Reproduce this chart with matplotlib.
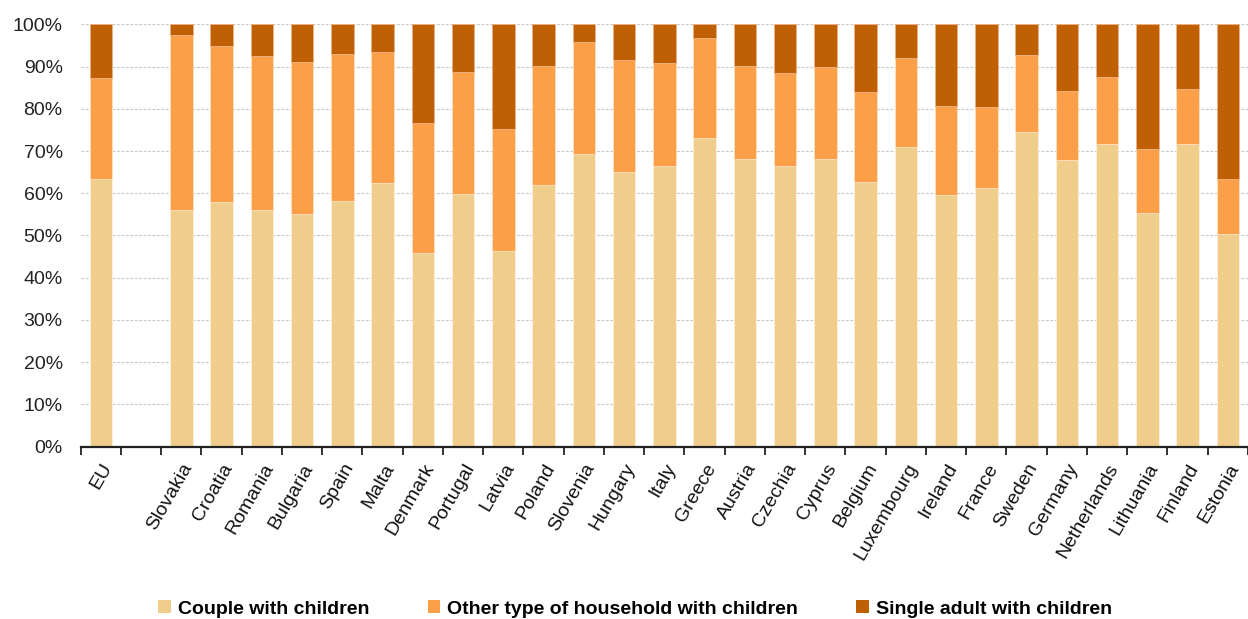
import matplotlib
matplotlib.use("Agg")
import matplotlib.pyplot as plt
from matplotlib.patches import Patch
from matplotlib.ticker import FixedLocator, PercentFormatter
import numpy as np

plt.rcParams['font.family'] = ['Liberation Sans', 'DejaVu Sans']

# Categories (EU aggregate followed by a blank slot, then the member states)
categories = ["EU", "", "Slovakia", "Croatia", "Romania", "Bulgaria", "Spain", "Malta",
              "Denmark", "Portugal", "Latvia", "Poland", "Slovenia", "Hungary", "Italy",
              "Greece", "Austria", "Czechia", "Cyprus", "Belgium", "Luxembourg",
              "Ireland", "France", "Sweden", "Germany", "Netherlands", "Lithuania",
              "Finland", "Estonia"]

# Shares of households with children (%), blank slot uses NaN
couple = [63.4, np.nan, 56.1, 57.9, 56.0, 55.1, 58.2, 62.4, 45.9, 59.8, 46.3, 61.9,
          69.4, 65.0, 66.5, 73.0, 68.2, 66.5, 68.2, 62.6, 71.0, 59.6, 61.2, 74.5,
          67.9, 71.6, 55.3, 71.6, 50.4]
other = [24.0, np.nan, 41.3, 37.0, 36.4, 35.9, 34.7, 31.0, 30.8, 29.0, 28.8, 28.3,
         26.5, 26.6, 24.3, 23.7, 22.0, 22.0, 21.7, 21.3, 21.0, 21.0, 19.2, 18.2,
         16.4, 15.9, 15.1, 13.2, 12.9]
single = [100 - c - o if not (np.isnan(c) or np.isnan(o)) else np.nan
          for c, o in zip(couple, other)]

series_names = ["Couple with children", "Other type of household with children",
                "Single adult with children"]
colors = ["#F0CD8A", "#FBA048", "#C06004"]

fig = plt.figure(figsize=(12.48, 6.19), dpi=100)
ax = fig.add_axes([0.0647, 0.2784, 0.9353, 0.6823])

x = np.arange(len(categories))
c = np.nan_to_num(np.array(couple, dtype=float))
o = np.nan_to_num(np.array(other, dtype=float))
s = np.nan_to_num(np.array(single, dtype=float))

w = 0.56
ax.bar(x, c, width=w, color=colors[0], edgecolor="#FFF3DC", linewidth=0.6, zorder=3)
ax.bar(x, o, width=w, bottom=c, color=colors[1], edgecolor="#FFE0C0", linewidth=0.6, zorder=3)
ax.bar(x, s, width=w, bottom=c + o, color=colors[2], edgecolor="#F0B080", linewidth=0.6, zorder=3)

ax.set_ylim(0, 100)
ax.set_xlim(-0.5, 28.32)
ax.yaxis.set_major_locator(FixedLocator(np.arange(0, 101, 10)))
ax.yaxis.set_major_formatter(PercentFormatter(decimals=0))
ax.tick_params(axis='y', length=0, labelsize=14, pad=13, labelcolor="#222222")
ax.grid(axis='y', color="#C8C8C8", linestyle=(0, (2.5, 1.5)), linewidth=0.8, zorder=0)

ax.set_xticks(x)
ax.set_xticklabels(categories, rotation=60, ha='right', rotation_mode='anchor',
                   fontsize=14, color="#111111")
ax.tick_params(axis='x', which='major', length=0, pad=10)
ax.set_xticks(np.arange(len(categories) + 1) - 0.5, minor=True)
ax.tick_params(axis='x', which='minor', length=6, width=1.3, color="#222222")

for side in ("left", "right", "top"):
    ax.spines[side].set_visible(False)
ax.spines["bottom"].set_linewidth(1.6)
ax.spines["bottom"].set_color("#222222")
ax.spines["bottom"].set_zorder(4)

handles = [Patch(facecolor=col, edgecolor='none') for col in colors]
fig.legend(handles, series_names, loc='center', bbox_to_anchor=(0.509, 0.016),
           ncol=3, frameon=False, prop={'weight': 'bold', 'size': 14},
           handlelength=0.65, handleheight=0.65, handletextpad=0.35,
           columnspacing=3.0)

fig.savefig("out.png", dpi=100)
